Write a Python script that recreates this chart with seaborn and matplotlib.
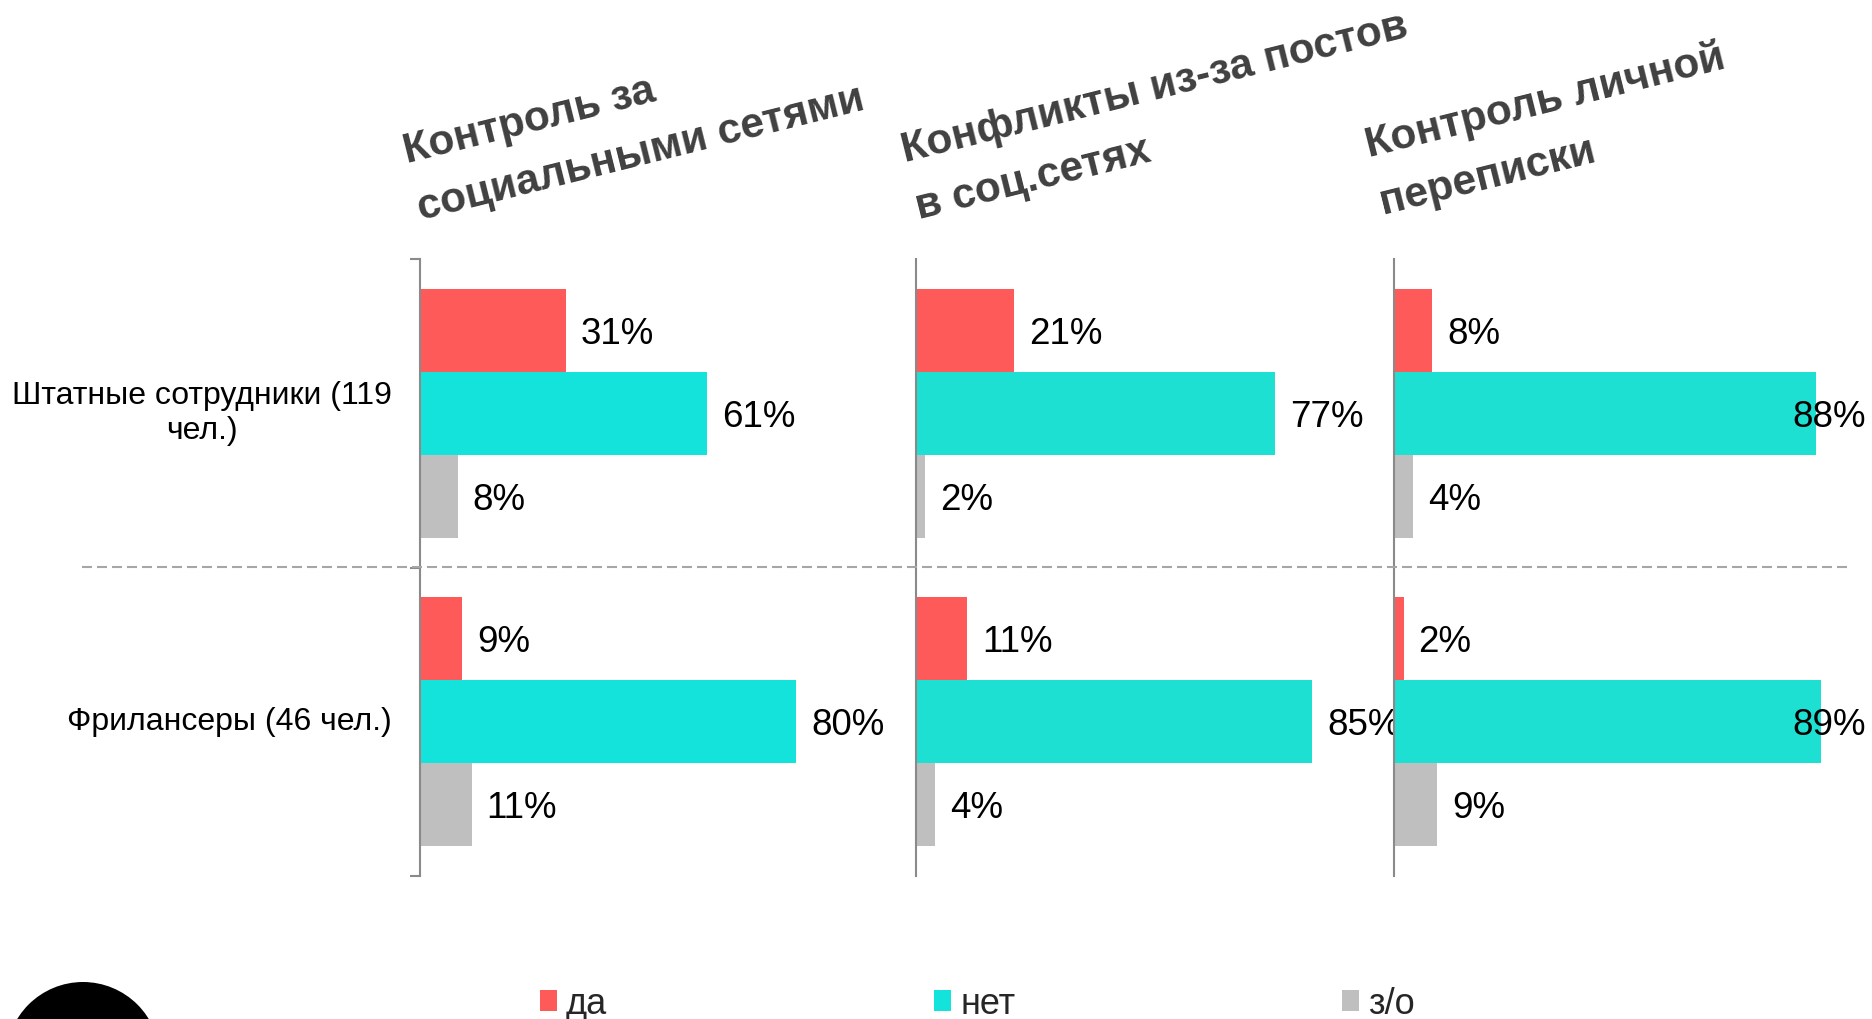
import matplotlib
matplotlib.use("Agg")
import matplotlib.pyplot as plt
import seaborn as sns
import pandas as pd
from matplotlib.lines import Line2D
from matplotlib.patches import Patch, Ellipse

# ---- data -------------------------------------------------------------
groups = ["Штатные сотрудники (119\nчел.)", "Фрилансеры (46 чел.)"]
answers = ["да", "нет", "з/о"]
panel_titles = [
    "Контроль за\nсоциальными сетями",
    "Конфликты из-за постов\nв соц.сетях",
    "Контроль личной\nпереписки",
]

social_yes = [31, 9]
social_no = [61, 80]
social_na = [8, 11]

posts_yes = [21, 11]
posts_no = [77, 85]
posts_na = [2, 4]

mail_yes = [8, 2]
mail_no = [88, 89]
mail_na = [4, 9]

panels = [
    (social_yes, social_no, social_na),
    (posts_yes, posts_no, posts_na),
    (mail_yes, mail_no, mail_na),
]

# ---- style ------------------------------------------------------------
sns.set_theme(style="white")
plt.rcParams["font.family"] = ["Liberation Sans", "DejaVu Sans"]

RED = "#FF5A5A"
GREY = "#BFBFBF"
CYANS = ["#14E3DB", "#1DE0D2", "#1DE0D2"]
AXIS = "#8A8A8A"

W, H = 1872, 1019
fig = plt.figure(figsize=(W / 100, H / 100), dpi=100)
fig.patch.set_facecolor("white")


def fx(px):
    return px / W


def fy(py):
    return 1 - py / H


# axis placement (pixels) and percent scale of each panel
lefts = [420, 916, 1394]
px_per_pct = [4.70, 4.66, 4.80]
widths = [470, 466, 478]
top, bottom = 259, 876

axes = []
for i, (vals, left, scale, width) in enumerate(zip(panels, lefts, px_per_pct, widths)):
    ax = fig.add_axes([fx(left), fy(bottom), width / W, (bottom - top) / H])
    rows = []
    for ans, series in zip(answers, vals):
        for g, v in zip(groups, series):
            rows.append({"group": g, "answer": ans, "value": v})
    df = pd.DataFrame(rows)
    sns.barplot(
        data=df, y="group", x="value", hue="answer",
        order=groups, hue_order=answers,
        palette=[RED, CYANS[i], GREY], saturation=1,
        width=0.807, orient="h", linewidth=0, legend=False, ax=ax,
    )
    ax.set_xlim(0, width / scale)
    ax.set_ylim(1.5, -0.5)
    ax.set_xlabel("")
    ax.set_ylabel("")
    ax.set_xticks([])
    for s in ("top", "right", "bottom"):
        ax.spines[s].set_visible(False)
    ax.spines["left"].set_color(AXIS)
    ax.spines["left"].set_linewidth(1.5)
    ax.set_facecolor("none")

    if i == 0:
        ax.set_yticks(range(len(groups)))
        ax.set_yticklabels(groups)
        ax.tick_params(axis="y", which="major", length=0, pad=20, labelsize=23,
                       labelcolor="black")
        for lab in ax.get_yticklabels():
            lab.set_multialignment("center")
            lab.set_verticalalignment("center")
        ax.set_yticks([-0.5, 0.5, 1.5], minor=True)
        ax.tick_params(axis="y", which="minor", left=True, length=7.2,
                       width=1.5, color=AXIS, direction="out")
    else:
        ax.set_yticks([])

    # value labels
    for container, series in zip(ax.containers, vals):
        for bar, v in zip(container, series):
            y = bar.get_y() + bar.get_height() / 2
            ax.annotate(
                f"{v}%", xy=(bar.get_width(), y), xytext=(15, 0),
                textcoords="offset pixels", ha="left", va="center_baseline",
                fontsize=26.5, color="black", annotation_clip=False,
            )
    axes.append(ax)

# keep value labels inside the canvas
fig.canvas.draw()
renderer = fig.canvas.get_renderer()
limit = 1866
for ax in axes:
    for t in ax.texts:
        bb = t.get_window_extent(renderer)
        if bb.x1 > limit:
            t.set_position((15 - (bb.x1 - limit), 0))

# panel titles (anchored at the baseline of the last line)
title_anchor = [(416, 202), (914, 201), (1378, 196)]
for (x, y), title in zip(title_anchor, panel_titles):
    fig.text(fx(x), fy(y), title, rotation=14, rotation_mode="anchor",
             ha="left", va="baseline", fontsize=30.5, fontweight="bold",
             color="#404040", linespacing=1.62)

# dashed separator between the groups
fig.add_artist(Line2D([fx(82), fx(1852)], [fy(567), fy(567)],
                      transform=fig.transFigure, color="#A6A6A6",
                      lw=1.5, dashes=(4.8, 2.4)))

# legend
handles = [Patch(facecolor=c, edgecolor="none") for c in (RED, CYANS[0], GREY)]
fig.legend(handles, answers, loc="center left",
           bbox_to_anchor=(fx(540), fy(1004)), ncol=3, frameon=False,
           fontsize=26, handlelength=0.47, handleheight=0.53,
           handletextpad=0.25, columnspacing=9.05, borderpad=0,
           borderaxespad=0)

# black round mark in the lower-left corner
fig.add_artist(Ellipse((fx(83), fy(1059)), width=2 * 77 / W, height=2 * 77 / H,
                       transform=fig.transFigure, facecolor="black",
                       edgecolor="none"))

fig.savefig("out.png", dpi=100, facecolor="white")
